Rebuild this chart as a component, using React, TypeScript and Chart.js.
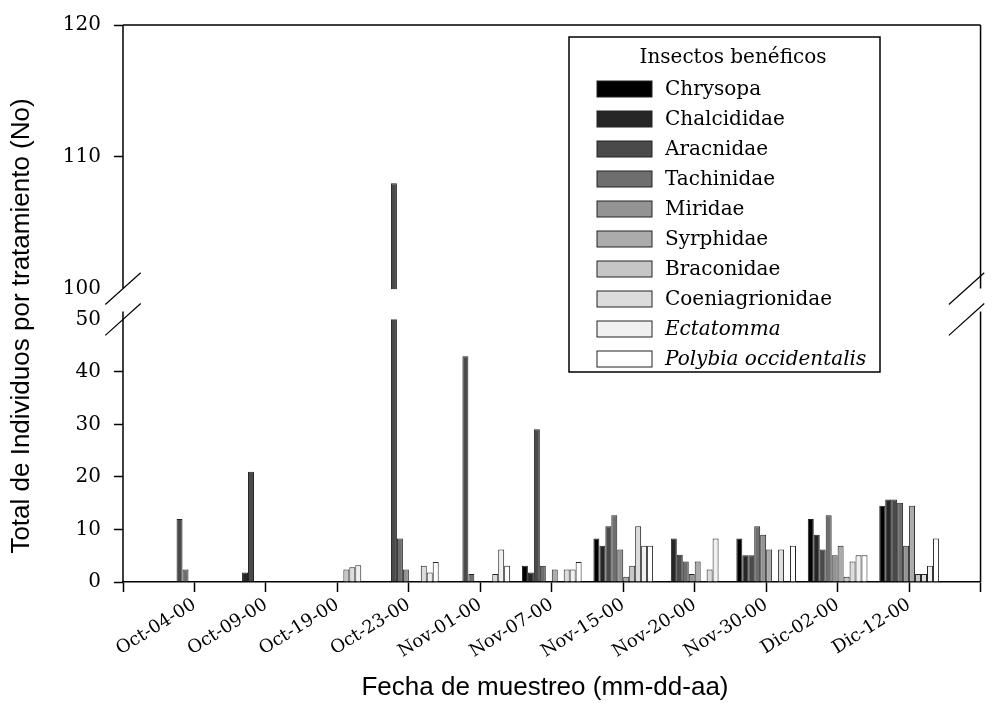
import React, { useEffect, useRef } from 'react';
import { Chart, registerables } from 'chart.js';

Chart.register(...registerables);

// ---- Data ----
const DATES = [
  'Oct-04-00', 'Oct-09-00', 'Oct-19-00', 'Oct-23-00', 'Nov-01-00', 'Nov-07-00',
  'Nov-15-00', 'Nov-20-00', 'Nov-30-00', 'Dic-02-00', 'Dic-12-00',
];

const SERIES_NAMES = [
  'Chrysopa', 'Chalcididae', 'Aracnidae', 'Tachinidae', 'Miridae',
  'Syrphidae', 'Braconidae', 'Coeniagrionidae', 'Ectatomma', 'Polybia occidentalis',
];
const SERIES_ITALIC = [false, false, false, false, false, false, false, false, true, true];
const SERIES_COLORS = [
  '#000000', '#262626', '#4a4a4a', '#6e6e6e', '#939393',
  '#ababab', '#c6c6c6', '#dcdcdc', '#f0f0f0', '#ffffff',
];

const CHRYSOPA = [0, 0, 0, 0, 0, 3.1, 8.3, 0, 8.3, 12, 14.5];
const CHALCIDIDAE = [0, 1.8, 0, 0, 0, 1.8, 6.9, 8.3, 5.1, 9, 15.7];
const ARACNIDAE = [12, 21, 0, 108, 43, 29.1, 10.6, 5.2, 5.1, 6.2, 15.7];
const TACHINIDAE = [2.4, 0, 0, 8.3, 1.5, 3.1, 12.7, 3.9, 10.6, 12.7, 15.1];
const MIRIDAE = [0, 0, 0, 2.4, 0, 0, 6.2, 1.5, 9, 5.1, 6.9];
const SYRPHIDAE = [0, 0, 0, 0, 0, 2.4, 1, 3.9, 6.2, 6.9, 14.5];
const BRACONIDAE = [0, 0, 2.4, 0, 0, 0, 3.1, 0, 0, 1, 1.5];
const COENIAGRIONIDAE = [0, 0, 2.8, 3.1, 1.5, 2.4, 10.6, 2.4, 6.2, 3.9, 1.5];
const ECTATOMMA = [0, 0, 3.2, 1.8, 6.2, 2.4, 6.9, 8.3, 0, 5.1, 3.1];
const POLYBIA = [0, 0, 0, 3.8, 3.1, 3.8, 6.9, 0, 6.9, 5.1, 8.3];

const SERIES_VALUES = [
  CHRYSOPA, CHALCIDIDAE, ARACNIDAE, TACHINIDAE, MIRIDAE,
  SYRPHIDAE, BRACONIDAE, COENIAGRIONIDAE, ECTATOMMA, POLYBIA,
];

const Y_TICKS = [0, 10, 20, 30, 40, 50, 100, 110, 120];
const Y_TICK_LABELS = ['0', '10', '20', '30', '40', '50', '100', '110', '120'];

const LEGEND_TITLE = 'Insectos benéficos';
const X_TITLE = 'Fecha de muestreo (mm-dd-aa)';
const Y_TITLE = 'Total de Individuos por tratamiento (No)';

// ---- Broken axis mapping ----
const LOW_MAX = 50;
const HIGH_MIN = 100;
const HIGH_MAX = 120;
const GAP_UNITS = 5.87;
const HIGH_SCALE = 2.51;

function toAxis(v: number | null): number | null {
  if (v == null) return null;
  if (v <= LOW_MAX) return v;
  return LOW_MAX + GAP_UNITS + (Math.max(v, HIGH_MIN) - HIGH_MIN) * HIGH_SCALE;
}
const AXIS_MAX = toAxis(HIGH_MAX) as number;

const LABELS = ['', ...DATES, ''];

const SERIF = '"DejaVu Serif", serif';
const SANS = '"Liberation Sans", Arial, sans-serif';

const breakPlugin = {
  id: 'breakPlugin',
  afterDatasetsDraw(chart: any) {
    const { ctx } = chart;
    const y = chart.scales.y;
    const yHigh = y.getPixelForValue(toAxis(HIGH_MIN));
    const yLow = y.getPixelForValue(LOW_MAX);
    chart.data.datasets.forEach((ds: any, i: number) => {
      const meta = chart.getDatasetMeta(i);
      meta.data.forEach((el: any, j: number) => {
        const real = ds.real[j];
        if (real != null && real > LOW_MAX) {
          ctx.save();
          ctx.fillStyle = '#ffffff';
          ctx.fillRect(el.x - el.width / 2 - 2, yHigh + 0.5, el.width + 4, yLow - yHigh - 0.5);
          ctx.restore();
        }
      });
    });
  },
  afterDraw(chart: any) {
    const { ctx, chartArea } = chart;
    const { left, right, top, bottom } = chartArea;
    const y = chart.scales.y;
    const yHigh = y.getPixelForValue(toAxis(HIGH_MIN));
    const yLow = y.getPixelForValue(LOW_MAX);
    ctx.save();
    ctx.strokeStyle = '#000';
    ctx.lineWidth = 1.5;
    ctx.beginPath();
    // top border
    ctx.moveTo(left, top);
    ctx.lineTo(right, top);
    // left axis
    ctx.moveTo(left, top);
    ctx.lineTo(left, yHigh);
    ctx.moveTo(left, yLow - 8);
    ctx.lineTo(left, bottom);
    // right border
    ctx.moveTo(right, top);
    ctx.lineTo(right, yHigh);
    ctx.moveTo(right, yLow - 8);
    ctx.lineTo(right, bottom);
    ctx.stroke();
    // break marks
    ctx.lineWidth = 1.2;
    ctx.beginPath();
    [left, right - 14].forEach((x) => {
      [yHigh, yLow].forEach((yb) => {
        ctx.moveTo(x - 17.7, yb + 15.9);
        ctx.lineTo(x + 17.7, yb - 15.9);
      });
    });
    ctx.stroke();

    // axis titles
    ctx.fillStyle = '#000';
    ctx.textAlign = 'center';
    ctx.textBaseline = 'middle';
    ctx.font = `26px ${SANS}`;
    ctx.fillText(X_TITLE, 545, 688);
    ctx.save();
    ctx.translate(22, 326);
    ctx.rotate(-Math.PI / 2);
    ctx.fillText(Y_TITLE, 0, 0);
    ctx.restore();

    // legend
    const bx = 569, by = 37, bw = 311, bh = 335;
    ctx.fillStyle = '#fff';
    ctx.fillRect(bx, by, bw, bh);
    ctx.lineWidth = 1.5;
    ctx.strokeStyle = '#000';
    ctx.strokeRect(bx, by, bw, bh);
    ctx.fillStyle = '#000';
    ctx.textBaseline = 'middle';
    ctx.textAlign = 'center';
    ctx.font = `20px ${SERIF}`;
    ctx.fillText(LEGEND_TITLE, 733, 58);
    ctx.textAlign = 'left';
    SERIES_NAMES.forEach((name, i) => {
      const cy = 89 + 30 * i;
      ctx.fillStyle = SERIES_COLORS[i];
      ctx.fillRect(597, cy - 8, 55, 16);
      ctx.lineWidth = 1;
      ctx.strokeStyle = '#222';
      ctx.strokeRect(597, cy - 8, 55, 16);
      ctx.fillStyle = '#000';
      ctx.font = `${SERIES_ITALIC[i] ? 'italic ' : ''}20px ${SERIF}`;
      ctx.fillText(name, 665, cy + 1);
    });
    ctx.restore();
  },
};

export default function App() {
  const ref = useRef<HTMLCanvasElement>(null);
  useEffect(() => {
    document.body.style.margin = '0';
    const canvas = ref.current;
    if (!canvas) return;
    const datasets = SERIES_NAMES.map((name, i) => {
      const real = [null, ...SERIES_VALUES[i].map((v) => (v === 0 ? null : v)), null];
      return {
        label: name,
        real,
        data: real.map((v) => toAxis(v as number | null)),
        backgroundColor: SERIES_COLORS[i],
        borderColor: '#222',
        borderWidth: 1,
        barPercentage: 1,
        categoryPercentage: 0.835,
      };
    });
    const chart = new Chart(canvas, {
      type: 'bar',
      data: { labels: LABELS, datasets: datasets as any },
      options: {
        responsive: false,
        animation: false,
        events: [],
        layout: { padding: { top: 22, right: 9, left: 0, bottom: 0 } },
        plugins: { legend: { display: false }, tooltip: { enabled: false } },
        scales: {
          x: {
            offset: false,
            grid: {
              offset: false,
              drawOnChartArea: false,
              drawTicks: true,
              tickLength: 10,
              tickColor: '#000',
              tickWidth: 1.5,
            },
            border: { display: true, color: '#000', width: 1.5 },
            ticks: {
              color: '#000',
              font: { family: SERIF, size: 18 },
              maxRotation: 32,
              minRotation: 32,
              autoSkip: false,
              padding: 2,
            },
            afterFit(scale: any) {
              scale.height = 125;
            },
          },
          y: {
            min: 0,
            max: AXIS_MAX,
            grid: {
              drawOnChartArea: false,
              drawTicks: true,
              tickLength: 9,
              tickWidth: 1.5,
              tickColor: (c: any) => {
                const v = Y_TICKS[c.index];
                return v === LOW_MAX || v === HIGH_MIN ? 'rgba(0,0,0,0)' : '#000';
              },
            },
            border: { display: false },
            afterBuildTicks(scale: any) {
              scale.ticks = Y_TICKS.map((v) => ({ value: toAxis(v) }));
            },
            ticks: {
              color: '#000',
              font: { family: SERIF, size: 20 },
              padding: 13,
              autoSkip: false,
              callback: (_v: any, i: number) => Y_TICK_LABELS[i],
            },
            afterFit(scale: any) {
              scale.width = 123;
            },
          },
        },
      },
      plugins: [breakPlugin],
    });
    return () => chart.destroy();
  }, []);
  return (
    <div style={{ width: 994, height: 707 }}>
      <canvas ref={ref} width={994} height={707} style={{ display: 'block' }} />
    </div>
  );
}
